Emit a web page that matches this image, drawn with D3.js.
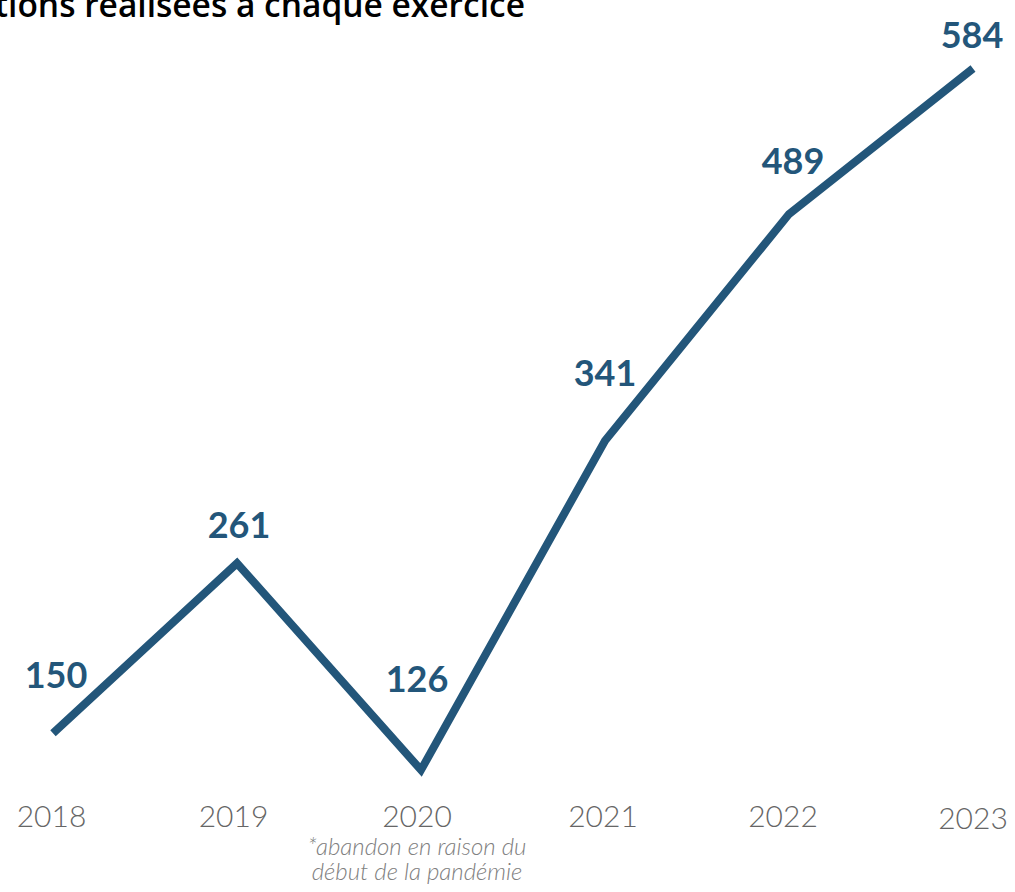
<!DOCTYPE html>
<html>
<head>
<meta charset="utf-8">
<script src="https://cdn.jsdelivr.net/npm/d3@7"></script>
<style>
  html, body { margin: 0; padding: 0; background: #fff; overflow: hidden; }
  svg { display: block; }
</style>
</head>
<body>
<svg id="chart" width="1015" height="892"></svg>
<script>
// ---- data ----
const title = "Nombre d'interventions réalisées à chaque exercice";
const years = ["2018", "2019", "2020", "2021", "2022", "2023"];
const values = [150, 261, 126, 341, 489, 584];
const footnote = ["*abandon en raison du", "début de la pandémie"];
const footnoteYear = "2020";

// ---- label placement (styling only) ----
const valueLabelOffsets = [[3, -45], [2, -25], [-4, -78], [0, -55], [4, -40], [-1, -21]];
const yearLabelOffsets = [[-1.5, 0], [-3.5, 0], [-4, 0], [-2, 0], [-6, 0], [0, 2]];

const color = "#23567a";
const svg = d3.select("#chart");

const x = d3.scalePoint().domain(years).range([53, 973]);
const y = d3.scaleLinear().domain([0, 600]).range([963, 44]);

// title (cropped at left / top in the reference)
svg.append("text")
  .attr("x", 525).attr("y", 17)
  .attr("text-anchor", "end")
  .style("font-family", "'Open Sans', sans-serif")
  .style("font-weight", 600)
  .style("font-size", "33.5px")
  .style("fill", "#000")
  .text(title);

// line
const line = d3.line().x((d, i) => x(years[i])).y(d => y(d));
svg.append("path")
  .datum(values)
  .attr("d", line)
  .attr("fill", "none")
  .attr("stroke", color)
  .attr("stroke-width", 8)
  .attr("stroke-linejoin", "miter")
  .attr("stroke-linecap", "butt");

// value labels
svg.selectAll("text.val")
  .data(values)
  .join("text")
  .attr("class", "val")
  .attr("x", (d, i) => x(years[i]) + valueLabelOffsets[i][0])
  .attr("y", (d, i) => y(d) + valueLabelOffsets[i][1])
  .attr("text-anchor", "middle")
  .style("font-family", "Lato, sans-serif")
  .style("font-weight", 700)
  .style("font-size", "36px")
  .style("fill", color)
  .text(d => d);

// x axis labels (no axis line)
svg.selectAll("text.year")
  .data(years)
  .join("text")
  .attr("class", "year")
  .attr("x", (d, i) => x(d) + yearLabelOffsets[i][0])
  .attr("y", (d, i) => 827 + yearLabelOffsets[i][1])
  .attr("text-anchor", "middle")
  .style("font-family", "Lato, sans-serif")
  .style("font-weight", 300)
  .style("font-size", "30px")
  .style("fill", "#666")
  .text(d => d);

// footnote under 2020
svg.selectAll("text.note")
  .data(footnote)
  .join("text")
  .attr("class", "note")
  .attr("x", x(footnoteYear) - 4)
  .attr("y", (d, i) => 855 + i * 25)
  .attr("text-anchor", "middle")
  .style("font-family", "Lato, sans-serif")
  .style("font-weight", 300)
  .style("font-style", "italic")
  .style("font-size", "24px")
  .style("fill", "#808080")
  .text(d => d);
</script>
</body>
</html>
